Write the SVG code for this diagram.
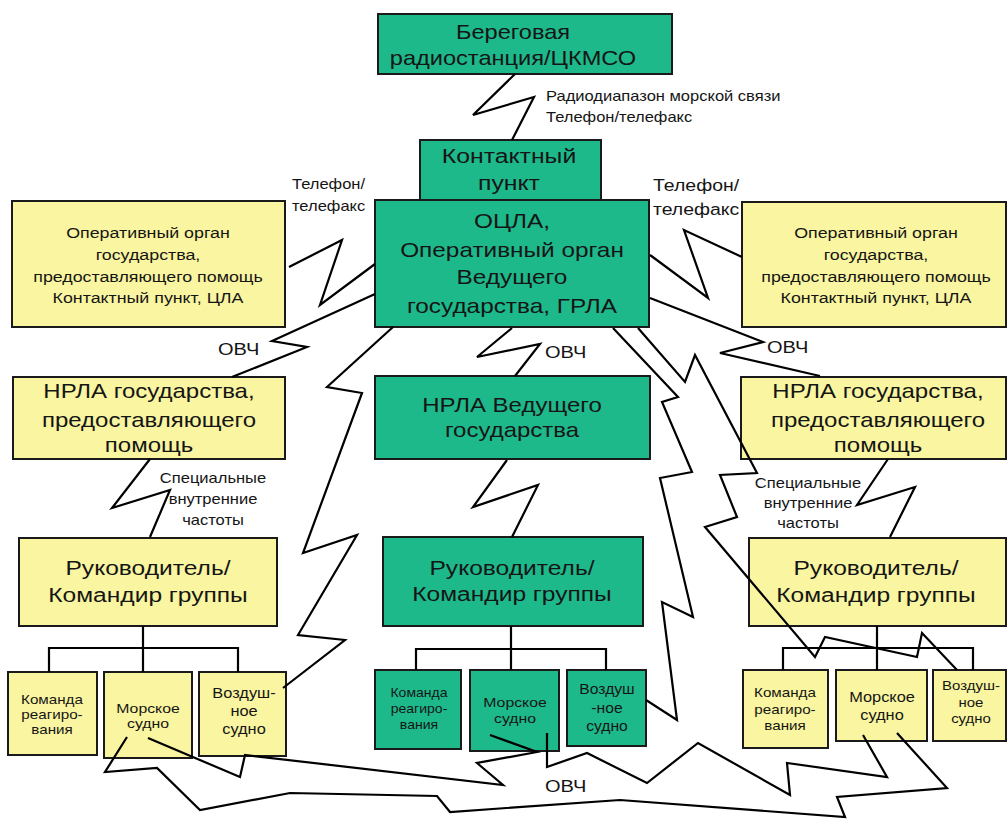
<svg xmlns="http://www.w3.org/2000/svg" width="1008" height="820" viewBox="0 0 1008 820">
<style>
.g{fill:#1DB98B;stroke:#1a1a1a;stroke-width:2}
.y{fill:#FAF5A0;stroke:#1a1a1a;stroke-width:2}
text{font-family:"Liberation Sans",Arial,sans-serif;fill:#151515;text-anchor:middle}
.l{text-anchor:start}
.z{fill:none;stroke:#000;stroke-width:2.2;stroke-linejoin:miter}
.tr{fill:none;stroke:#000;stroke-width:2.2}
</style>
<rect width="1008" height="820" fill="#fff"/>
<g id="labels">
<text class="l" font-size="14" transform="translate(546,0) scale(1.18,1)"><tspan x="0" y="101">Радиодиапазон морской связи</tspan><tspan x="0" y="122">Телефон/телефакс</tspan></text>
<text class="l" font-size="14" transform="translate(292,0) scale(1.18,1)"><tspan x="0" y="189">Телефон/</tspan><tspan x="0" y="211">телефакс</tspan></text>
<text class="l" font-size="16.5" transform="translate(653,0) scale(1.18,1)"><tspan x="0" y="191">Телефон/</tspan><tspan x="0" y="215">телефакс</tspan></text>
<text class="l" font-size="17" transform="translate(218,0) scale(1.18,1)" y="355">ОВЧ</text>
<text class="l" font-size="17" transform="translate(545,0) scale(1.18,1)" y="358">ОВЧ</text>
<text class="l" font-size="17" transform="translate(767,0) scale(1.18,1)" y="353">ОВЧ</text>
<text class="l" font-size="17" transform="translate(545,0) scale(1.18,1)" y="792">ОВЧ</text>
<text font-size="14" transform="translate(213,0) scale(1.18,1)"><tspan x="0" y="483">Специальные</tspan><tspan x="0" y="504">внутренние</tspan><tspan x="0" y="525">частоты</tspan></text>
<text font-size="14" transform="translate(808,0) scale(1.18,1)"><tspan x="0" y="488">Специальные</tspan><tspan x="0" y="508">внутренние</tspan><tspan x="0" y="528">частоты</tspan></text>
</g>
<g id="n-bereg"><rect class="g" x="378" y="14" width="294" height="60"/>
<text font-size="20" transform="translate(513,0) scale(1.18,1)"><tspan x="0" y="39">Береговая</tspan><tspan x="0" y="65">радиостанция/ЦКМСО</tspan></text></g>
<g id="n-kontakt"><rect class="g" x="420" y="140" width="181" height="70"/>
<text font-size="21" transform="translate(509,0) scale(1.18,1)"><tspan x="0" y="163">Контактный</tspan><tspan x="0" y="190">пункт</tspan></text></g>
<g id="n-ocla"><rect class="g" x="375" y="200" width="274" height="127"/>
<text font-size="21" transform="translate(512,0) scale(1.16,1)"><tspan x="0" y="228">ОЦЛА,</tspan><tspan x="0" y="257">Оперативный орган</tspan><tspan x="0" y="284">Ведущего</tspan><tspan x="0" y="313">государства, ГРЛА</tspan></text></g>
<g id="n-op-left"><rect class="y" x="12" y="201" width="273" height="126"/>
<text font-size="15.5" transform="translate(148,0) scale(1.15,1)"><tspan x="0" y="238">Оперативный  орган</tspan><tspan x="0" y="260">государства,</tspan><tspan x="0" y="282">предоставляющего помощь</tspan><tspan x="0" y="303">Контактный  пункт,  ЦЛА</tspan></text></g>
<g id="n-op-right"><rect class="y" x="742" y="202" width="264" height="125"/>
<text font-size="15.5" transform="translate(876,0) scale(1.15,1)"><tspan x="0" y="238">Оперативный  орган</tspan><tspan x="0" y="260">государства,</tspan><tspan x="0" y="282">предоставляющего помощь</tspan><tspan x="0" y="303">Контактный  пункт,  ЦЛА</tspan></text></g>
<g id="n-nrla-left"><rect class="y" x="13" y="377" width="272" height="82"/>
<text font-size="20" transform="translate(149,0) scale(1.2,1)"><tspan x="0" y="398">НРЛА государства,</tspan><tspan x="0" y="427">предоставляющего</tspan><tspan x="0" y="452">помощь</tspan></text></g>
<g id="n-nrla-center"><rect class="g" x="375" y="376" width="275" height="83"/>
<text font-size="20" transform="translate(512,0) scale(1.2,1)"><tspan x="0" y="412">НРЛА Ведущего</tspan><tspan x="0" y="437">государства</tspan></text></g>
<g id="n-nrla-right"><rect class="y" x="741" y="377" width="265" height="82"/>
<text font-size="20" transform="translate(878,0) scale(1.2,1)"><tspan x="0" y="398">НРЛА государства,</tspan><tspan x="0" y="427">предоставляющего</tspan><tspan x="0" y="452">помощь</tspan></text></g>
<g id="n-ruk-left"><rect class="y" x="19" y="538" width="258" height="88"/>
<text font-size="21" transform="translate(148,0) scale(1.17,1)"><tspan x="0" y="575">Руководитель/</tspan><tspan x="0" y="602">Командир группы</tspan></text></g>
<g id="n-ruk-center"><rect class="g" x="383" y="537" width="260" height="89"/>
<text font-size="21" transform="translate(512,0) scale(1.17,1)"><tspan x="0" y="575">Руководитель/</tspan><tspan x="0" y="601">Командир группы</tspan></text></g>
<g id="n-ruk-right"><rect class="y" x="749" y="538" width="257" height="88"/>
<text font-size="21" transform="translate(876,0) scale(1.17,1)"><tspan x="0" y="575">Руководитель/</tspan><tspan x="0" y="602">Командир группы</tspan></text></g>
<g id="n-kom-left"><rect class="y" x="8" y="672" width="89" height="83"/>
<text font-size="13" transform="translate(52,0) scale(1.17,1)"><tspan x="0" y="704">Команда</tspan><tspan x="0" y="719">реагиро-</tspan><tspan x="0" y="734">вания</tspan></text></g>
<g id="n-mor-left"><rect class="y" x="104" y="672" width="88" height="86"/>
<text font-size="13.5" transform="translate(148,0) scale(1.17,1)"><tspan x="0" y="713">Морское</tspan><tspan x="0" y="728">судно</tspan></text></g>
<g id="n-voz-left"><rect class="y" x="199" y="672" width="87" height="84"/>
<text font-size="14" transform="translate(244,0) scale(1.17,1)"><tspan x="0" y="698">Воздуш-</tspan><tspan x="0" y="716">ное</tspan><tspan x="0" y="734">судно</tspan></text></g>
<g id="n-kom-center"><rect class="g" x="375" y="670" width="86" height="79"/>
<text font-size="12" transform="translate(419,0) scale(1.17,1)"><tspan x="0" y="697">Команда</tspan><tspan x="0" y="713">реагиро-</tspan><tspan x="0" y="729">вания</tspan></text></g>
<g id="n-mor-center"><rect class="g" x="470" y="670" width="89" height="81"/>
<text font-size="13.5" transform="translate(515,0) scale(1.17,1)"><tspan x="0" y="707">Морское</tspan><tspan x="0" y="723">судно</tspan></text></g>
<g id="n-voz-center"><rect class="g" x="567" y="670" width="79" height="76"/>
<text font-size="14" transform="translate(607,0) scale(1.12,1)"><tspan x="0" y="694">Воздуш</tspan><tspan x="0" y="713">-ное</tspan><tspan x="0" y="731">судно</tspan></text></g>
<g id="n-kom-right"><rect class="y" x="743" y="670" width="85" height="78"/>
<text font-size="13" transform="translate(785,0) scale(1.17,1)"><tspan x="0" y="697">Команда</tspan><tspan x="0" y="714">реагиро-</tspan><tspan x="0" y="730">вания</tspan></text></g>
<g id="n-mor-right"><rect class="y" x="836" y="670" width="91" height="71"/>
<text font-size="14" transform="translate(882,0) scale(1.17,1)"><tspan x="0" y="702">Морское</tspan><tspan x="0" y="720">судно</tspan></text></g>
<g id="n-voz-right"><rect class="y" x="933" y="670" width="73" height="71"/>
<text font-size="13" transform="translate(971,0) scale(1.15,1)"><tspan x="0" y="690">Воздуш-</tspan><tspan x="0" y="707">ное</tspan><tspan x="0" y="723">судно</tspan></text></g>
<g id="connectors">
<path class="tr" d="M143,626V648M49,672V648H238V672M143,648V672"/>
<path class="tr" d="M511,626V649M416,670V649H606V670M511,649V670"/>
<path class="tr" d="M877,626V648M783,670V648H973V670M877,648V670"/>
<path class="z" d="M515,74L473,115L534,97L512,140"/>
<path class="z" d="M289,267L342,240L320,305L375,264"/>
<path class="z" d="M375,294L272,341L307,347L232,377"/>
<path class="z" d="M393,327L327,387L362,393L303,553L357,535L298,635L345,640L283,688"/>
<path class="z" d="M150,459L112,508L170,490L150,537"/>
<path class="z" d="M512,328L477,357L540,344L515,376"/>
<path class="z" d="M507,460L473,507L538,485L512,537"/>
<path class="z" d="M650,255L708,298L684,230L742,257"/>
<path class="z" d="M650,298L763,342L720,353L820,376"/>
<path class="z" d="M613,328L678,397L662,402L692,472L660,478L693,617L662,602L677,720L646,700"/>
<path class="z" d="M638,328L685,382L695,355L757,473L720,475L737,517L705,527L815,657L825,637L917,657L922,633L957,670"/>
<path class="z" d="M888,459L857,505L915,487L890,537"/>
<path class="z" d="M127,737L105,772L157,768L200,810L290,793L437,796L450,812L620,800L845,817L837,797L947,788L897,733"/>
<path class="z" d="M148,738L240,777L245,755L503,785L477,763L537,752L490,735"/>
<path class="z" d="M547,733L547,767L587,753L647,783L698,743L790,795L787,763L887,777L863,735"/>
</g>
</svg>
